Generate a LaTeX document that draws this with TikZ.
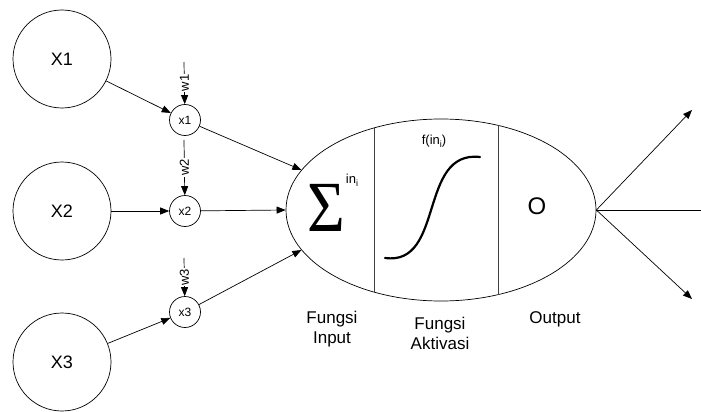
\documentclass[tikz,border=0pt]{standalone}
\usepackage{fontspec}
\setmainfont{Liberation Sans}
\newfontfamily\sigfont{Liberation Serif}
\usetikzlibrary{arrows.meta,shapes.geometric}
\begin{document}
\begin{tikzpicture}[x=1pt,y=-1pt,
  big/.style={circle,draw,line width=0.7pt,minimum size=98pt,inner sep=0pt,font=\fontsize{18}{20}\selectfont},
  small/.style={circle,draw,line width=0.7pt,minimum size=31pt,inner sep=0pt,font=\fontsize{12}{14}\selectfont},
  conn/.style={line width=0.7pt,-{Triangle[length=9pt,width=7pt]}},
  plain/.style={line width=0.7pt},
  lbl/.style={font=\fontsize{17}{20}\selectfont,align=center,inner sep=0pt},
  wlab/.style={rotate=90,fill=white,inner sep=1pt,font=\fontsize{13}{13}\selectfont}]
\useasboundingbox (0,0) rectangle (701,412);
% input circles
\node[big] (X1) at (62,59) {X1};
\node[big] (X2) at (62,211) {X2};
\node[big] (X3) at (62,362) {X3};
% weight circles
\node[small] (x1) at (185,120) {x1};
\node[small] (x2) at (185,211) {x2};
\node[small] (x3) at (185,312) {x3};
% neuron
\node[ellipse,draw,line width=0.7pt,minimum width=310pt,minimum height=182pt,inner sep=0pt] (N) at (441,210) {};
\draw[line width=0.7pt,black!75] (374,128) -- (374,292);
\draw[line width=0.7pt,black!75] (498,125.4) -- (498,294.6);
% weight arrows
\coordinate (w1s) at (184,62);
\coordinate (w2s) at (184,140);
\coordinate (w3s) at (184,258);
\draw[conn] (w1s) -- node[wlab]{w1} (x1);
\draw[conn] (w2s) -- node[wlab]{w2} (x2);
\draw[conn] (w3s) -- node[wlab]{w3} (x3);
% input connections
\draw[conn] (X1) -- (x1);
\draw[conn] (X2) -- (x2);
\draw[conn] (X3) -- (x3);
\draw[conn] (x1) -- (N.164);
\draw[conn] (x2) -- (N.west);
\draw[conn] (x3) -- (N.196);
% outputs
\coordinate (o1) at (692,110);
\coordinate (o2) at (701,210);
\coordinate (o3) at (692,299);
\draw[conn] (N.east) -- (o1);
\draw[plain] (N.east) -- (o2);
\draw[conn] (N.east) -- (o3);
% contents
\node[font=\sigfont\fontsize{72}{72}\selectfont,xscale=0.9,inner sep=0pt] (sig) at (326,208) {Σ};
\node[font=\fontsize{13}{13}\selectfont,inner sep=0pt] (ini) at (352,180) {in\raisebox{-3pt}{\fontsize{9}{9}\selectfont i}};
\node[font=\fontsize{13}{13}\selectfont,inner sep=0pt] (fin) at (434,141) {f(in\raisebox{-3pt}{\fontsize{9}{9}\selectfont i})};
\draw[line width=2.2pt,line cap=round] (385,258) .. controls (445,266) and (418,150) .. (480,157);
\node[font=\fontsize{24}{24}\selectfont,inner sep=0pt] (O) at (537,206) {O};
% labels
\node[lbl] (l1) at (332,329) {Fungsi\\Input};
\node[lbl] (l2) at (440,333) {Fungsi\\Aktivasi};
\node[lbl] (l3) at (555,319) {Output};
\end{tikzpicture}
\end{document}
